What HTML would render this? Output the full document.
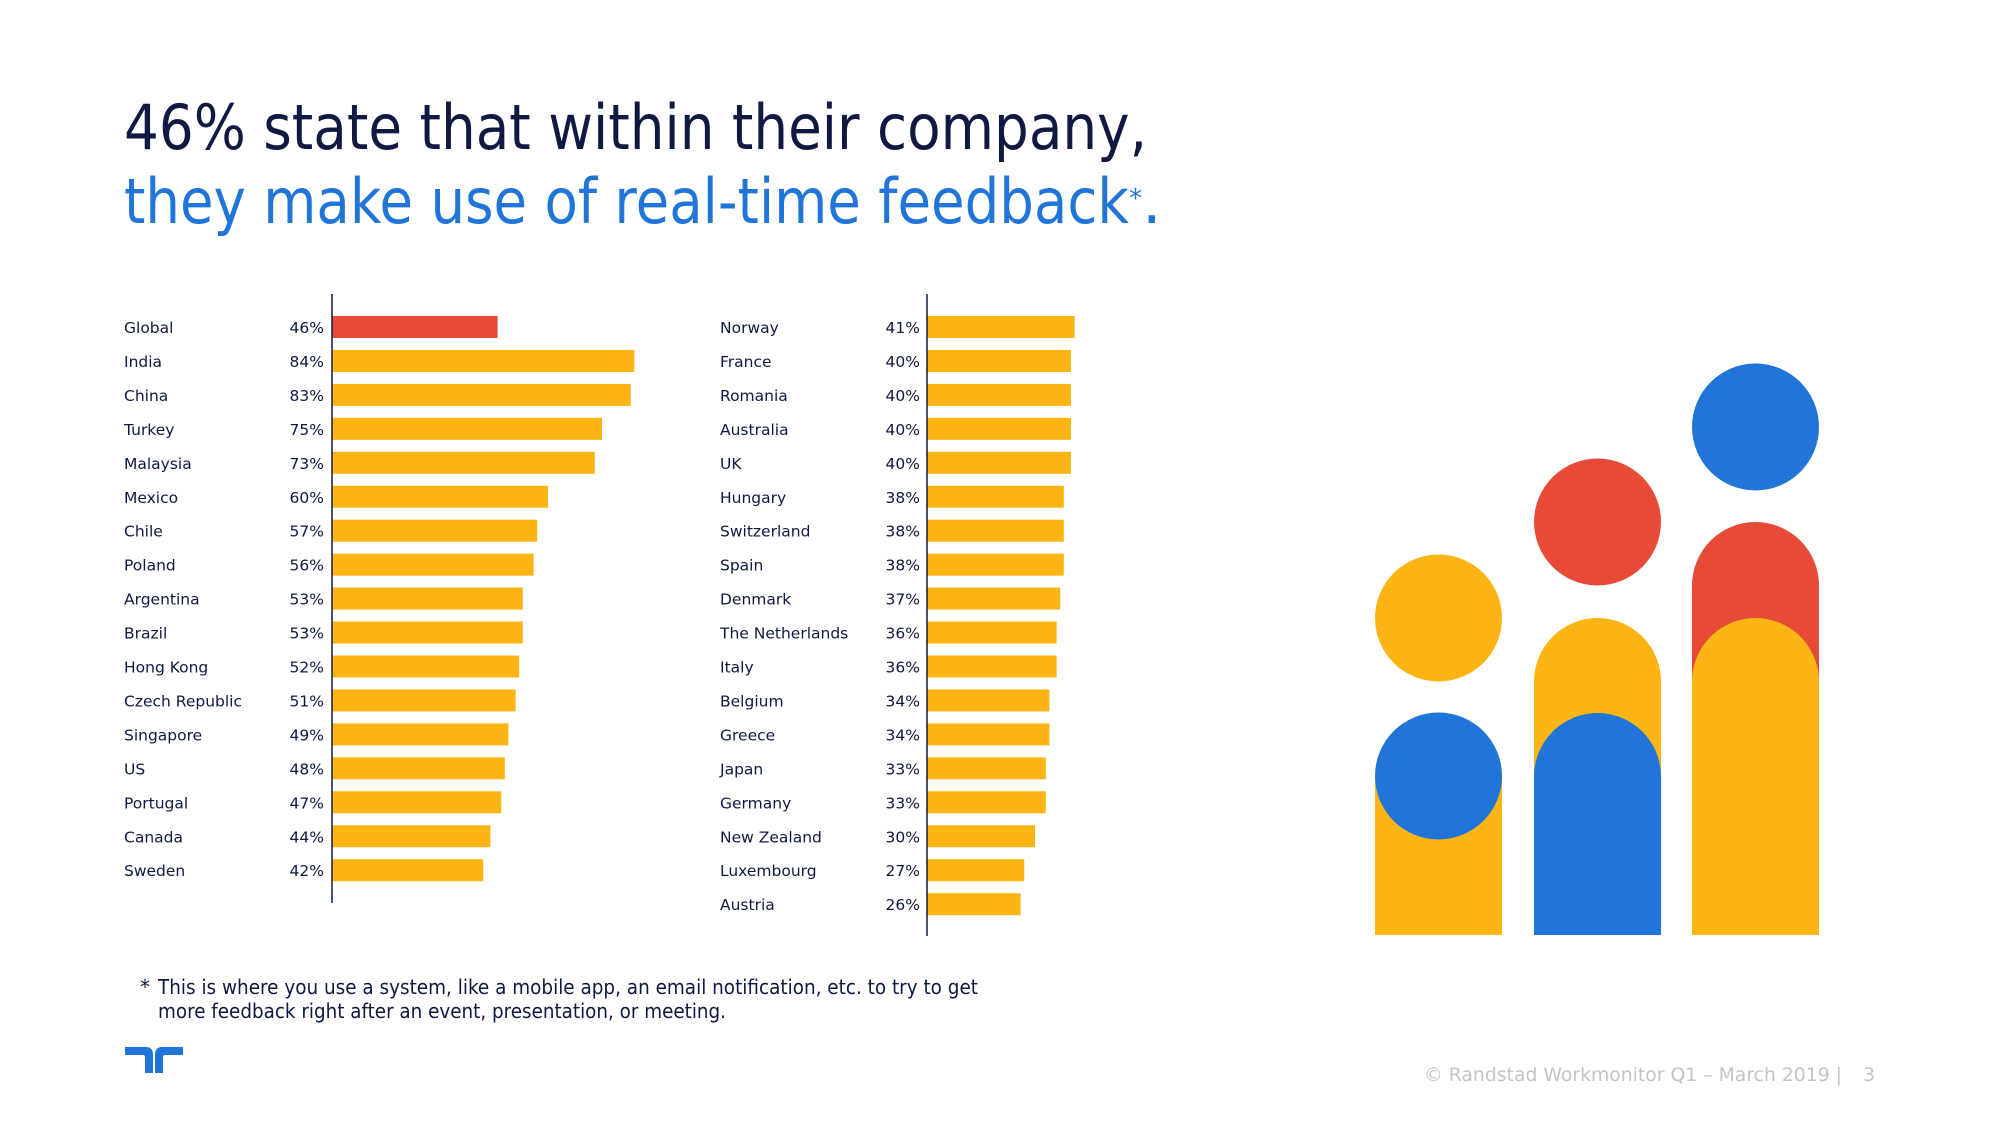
<!DOCTYPE html>
<html><head><meta charset="utf-8"><style>
html,body{margin:0;padding:0;background:#fff;}
svg{display:block;font-family:"DejaVu Sans","Liberation Sans",sans-serif;}
</style></head><body>
<svg id="chart" width="2000" height="1125" viewBox="0 0 2000 1125" xmlns="http://www.w3.org/2000/svg">
<text x="124" y="149" font-size="62" fill="#0f1941" textLength="1023" lengthAdjust="spacingAndGlyphs">46% state that within their company,</text>
<text x="124" y="223" font-size="62" fill="#2175d9"><tspan textLength="1005" lengthAdjust="spacingAndGlyphs">they make use of real-time feedback</tspan><tspan font-size="26" dy="-16">*</tspan><tspan dy="16">.</tspan></text>
<g id="left-chart"></g>
<g id="right-chart"></g>
<text font-size="20" fill="#0f1941"><tspan x="140" y="994">*</tspan><tspan x="158" y="994" textLength="820" lengthAdjust="spacingAndGlyphs">This is where you use a system, like a mobile app, an email notification, etc. to try to get</tspan><tspan x="158" y="1018" textLength="568" lengthAdjust="spacingAndGlyphs">more feedback right after an event, presentation, or meeting.</tspan></text>
<g fill="#2175d9">
<path d="M125 1047 H146 Q153 1047 153 1055 V1073 H145 V1057 Q145 1055 143 1055 H125 Z"/>
<path d="M183 1047 H162 Q155 1047 155 1055 V1073 H163 V1057 Q163 1055 165 1055 H183 Z"/>
</g>
<text x="1424" y="1081" font-size="19" fill="#c4c4c4" textLength="418" lengthAdjust="spacingAndGlyphs">© Randstad Workmonitor Q1 – March 2019 |</text>
<text x="1863" y="1081" font-size="19" fill="#c4c4c4">3</text>
<g>
<rect x="1375" y="776" width="127" height="159" fill="#fdb515"/>
<circle cx="1438.5" cy="618" r="63.5" fill="#fdb515"/>
<circle cx="1438.5" cy="776" r="63.5" fill="#2175d9"/>
<circle cx="1597.5" cy="522" r="63.5" fill="#e74a36"/>
<path d="M1534 935 V681.5 A63.5 63.5 0 0 1 1661 681.5 V935 Z" fill="#fdb515"/>
<path d="M1534 935 V776.5 A63.5 63.5 0 0 1 1661 776.5 V935 Z" fill="#2175d9"/>
<circle cx="1755.5" cy="427" r="63.5" fill="#2175d9"/>
<path d="M1692 935 V585.5 A63.5 63.5 0 0 1 1819 585.5 V935 Z" fill="#e74a36"/>
<path d="M1692 935 V681.5 A63.5 63.5 0 0 1 1819 681.5 V935 Z" fill="#fdb515"/>
</g>
</svg>
<script>
const leftCountries = ["Global","India","China","Turkey","Malaysia","Mexico","Chile","Poland","Argentina","Brazil","Hong Kong","Czech Republic","Singapore","US","Portugal","Canada","Sweden"];
const leftValues = [46,84,83,75,73,60,57,56,53,53,52,51,49,48,47,44,42];
const rightCountries = ["Norway","France","Romania","Australia","UK","Hungary","Switzerland","Spain","Denmark","The Netherlands","Italy","Belgium","Greece","Japan","Germany","New Zealand","Luxembourg","Austria"];
const rightValues = [41,40,40,40,40,38,38,38,37,36,36,34,34,33,33,30,27,26];
const NS = "http://www.w3.org/2000/svg";
const PX_PER_PCT = 3.6, ROW0 = 327, ROW_STEP = 33.95, BAR_H = 22;
function xScale(axisX, v){ return axisX + v * PX_PER_PCT; }
function yScale(i){ return ROW0 + i * ROW_STEP; }
function draw(gId, cats, vals, labelX, pctX, axisX, axisTop, axisBottom){
  const g = document.getElementById(gId);
  cats.forEach((c,i)=>{
    const y = yScale(i);
    const t = document.createElementNS(NS,"text");
    
    
    t.setAttribute("x",labelX); t.setAttribute("y",y+6);
    t.setAttribute("font-size","15.5"); t.setAttribute("fill","#0f1941");
    t.textContent = c; g.appendChild(t);
    const p = document.createElementNS(NS,"text");
    
    
    p.setAttribute("x",pctX); p.setAttribute("y",y+6); p.setAttribute("text-anchor","end");
    p.setAttribute("font-size","15.5"); p.setAttribute("fill","#0f1941");
    p.textContent = vals[i] + "%"; g.appendChild(p);
    const r = document.createElementNS(NS,"rect");
    
    
    r.setAttribute("x",axisX); r.setAttribute("y",y-BAR_H/2);
    r.setAttribute("width",xScale(axisX,vals[i])-axisX); r.setAttribute("height",BAR_H);
    r.setAttribute("fill",(gId==="left-chart"&&i===0)?"#e74a36":"#fdb515");
    g.appendChild(r);
  });
  const a = document.createElementNS(NS,"line");
  
  
  a.setAttribute("x1",axisX); a.setAttribute("x2",axisX);
  a.setAttribute("y1",axisTop); a.setAttribute("y2",axisBottom);
  a.setAttribute("stroke","#0f1941"); a.setAttribute("stroke-width","1.5");
  g.appendChild(a);
}
draw("left-chart", leftCountries, leftValues, 124, 324, 332, 294, 903);
draw("right-chart", rightCountries, rightValues, 720, 920, 927, 294, 936);
</script>
</body></html>
